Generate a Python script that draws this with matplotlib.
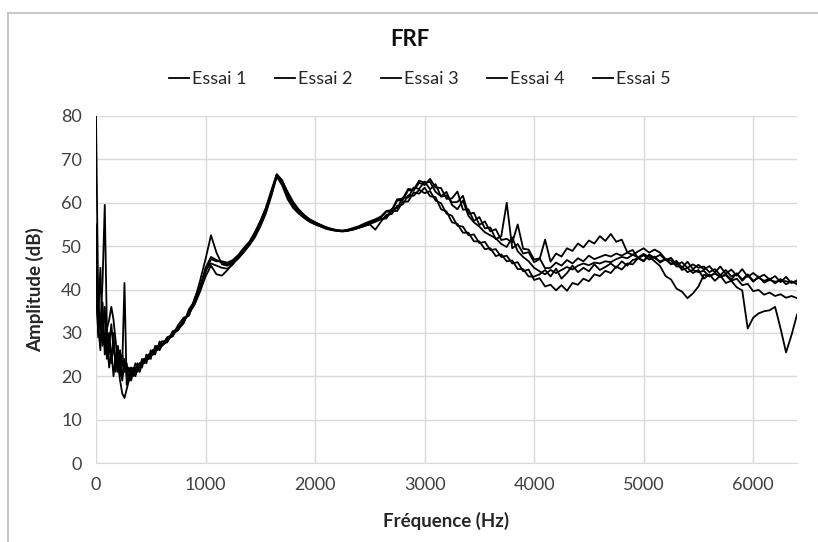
import numpy as np
import matplotlib
matplotlib.use("Agg")
import matplotlib.pyplot as plt
from matplotlib.lines import Line2D

plt.rcParams['font.family'] = ['Lato', 'DejaVu Sans']

# Frequency sampling (Hz)
freq_low = [0, 20, 40, 60, 80, 100, 120, 140, 160, 180, 200, 220, 240, 260, 280, 300,
            320, 340, 360, 380, 400, 420, 440, 460, 480, 500, 520, 540, 560, 580, 600]
freq_high = list(range(650, 6401, 50))
freq = freq_low + freq_high

# Amplitudes (dB)
essai1 = [80, 38, 31, 42, 59.5, 30, 27, 32, 26, 24, 27, 22, 25, 21, 22, 21,
          22, 21, 23, 22, 23, 23, 24, 23, 25, 25, 26, 25, 27, 26, 27,
          28.0, 29.8, 30.6, 33.0, 34.2, 37.5, 40.0, 45.0, 47.5, 46.8,
          46.2, 45.8, 46.5, 47.8, 49.3, 50.8, 52.9, 55.4, 58.6, 62.4,
          66.4, 64.8, 61.8, 59.6, 58.0, 56.9, 56.0, 55.4, 54.8, 54.2,
          53.9, 53.6, 53.5, 53.7, 54.0, 54.4, 55.0, 55.5, 55.9, 56.6,
          57.9, 58.1, 60.5, 60.6, 62.9, 62.8, 64.6, 64.1, 65.5, 63.5,
          63.4, 60.9, 61.0, 62.6, 58.4, 58.5, 55.8, 56.7, 54.1, 54.3,
          51.6, 52.3, 60.0, 49.5, 50.5, 48.3, 48.6, 46.3, 47.0, 51.5,
          46.4, 48.3, 47.6, 49.5, 48.9, 50.6, 49.7, 51.3, 50.6, 52.3,
          51.2, 52.8, 51.0, 51.5, 48.6, 49.1, 47.2, 47.9, 46.9, 47.6,
          46.2, 47.0, 45.9, 46.6, 45.0, 46.4, 44.7, 45.7, 44.6, 45.4,
          43.9, 45.3, 43.6, 44.6, 43.2, 44.7, 42.9, 43.8, 42.8, 43.4,
          42.3, 43.1, 41.7, 42.9, 41.5, 42.1]
essai2 = [55, 33, 45, 29, 36, 26, 30, 24, 28, 22, 25, 20, 23, 41.5, 18, 20,
          19, 21, 20, 22, 21, 23, 23, 24, 24, 25, 25, 26, 26, 27, 27,
          28.6, 29.2, 31.4, 32.4, 35.0, 37.5, 42.0, 47.0, 52.5, 48.5,
          45.8, 45.5, 46.2, 47.2, 48.8, 50.3, 52.4, 55.0, 58.0, 61.8,
          66.2, 65.0, 62.5, 60.2, 58.5, 57.2, 56.2, 55.5, 54.9, 54.3,
          53.8, 53.5, 53.4, 53.6, 53.9, 54.3, 54.8, 55.3, 55.8, 56.3,
          56.5, 58.6, 58.7, 61.2, 61.2, 63.5, 63.2, 64.9, 63.1, 64.3,
          61.4, 61.7, 60.1, 60.2, 61.6, 57.4, 57.7, 54.9, 55.7, 53.4,
          53.9, 51.4, 51.7, 50.8, 55.0, 49.4, 49.2, 46.9, 47.2, 44.9,
          45.0, 46.2, 45.5, 46.8, 46.0, 47.2, 46.5, 47.8, 47.0, 47.5,
          48.0, 47.6, 48.3, 47.8, 48.5, 48.0, 47.4, 48.2, 47.5, 46.5,
          45.4, 43.1, 42.3, 40.2, 39.5, 38.0, 39.1, 40.7, 43.4, 43.1,
          43.7, 42.9, 43.3, 42.0, 42.5, 41.0, 41.3, 39.6, 39.9, 38.8,
          39.3, 38.5, 38.9, 38.1, 38.5, 38.0]
essai3 = [42, 30, 28, 34, 27, 31, 33, 36, 33, 28, 23, 19, 16, 15, 17, 19,
          20, 21, 21, 22, 22, 23, 23, 24, 24, 25, 26, 26, 27, 27, 28,
          28.2, 30.0, 31.0, 32.8, 34.5, 36.5, 39.5, 43.0, 45.5, 43.5,
          43.2, 44.5, 46.0, 47.2, 48.6, 50.2, 52.0, 54.5, 57.5, 61.5,
          66.0, 64.0, 60.8, 58.8, 57.5, 56.5, 55.6, 55.0, 54.5, 54.0,
          53.7, 53.5, 53.4, 53.5, 53.9, 54.3, 54.7, 55.0, 53.8, 55.6,
          57.2, 57.4, 59.3, 59.6, 61.7, 61.6, 63.0, 62.2, 62.7, 60.5,
          59.9, 57.5, 57.0, 54.7, 54.5, 52.5, 52.7, 50.7, 51.0, 49.1,
          49.3, 47.5, 47.8, 46.0, 46.3, 44.2, 44.6, 42.2, 42.6, 40.7,
          41.1, 39.8, 41.0, 39.7, 41.5, 41.1, 42.5, 41.9, 43.5, 43.1,
          44.3, 43.8, 45.3, 44.6, 46.0, 45.8, 47.3, 46.6, 48.0, 47.3,
          48.0, 46.8, 47.3, 45.7, 46.3, 45.0, 45.8, 45.0, 45.3, 44.0,
          44.7, 43.3, 44.5, 43.0, 43.7, 42.3, 43.5, 42.0, 42.7, 42.0,
          42.5, 41.4, 42.4, 41.2, 41.9, 41.2]
essai4 = [47, 29, 34, 27, 30, 24, 27, 23, 30, 21, 26, 23, 19, 24, 20, 22,
          20, 22, 21, 23, 22, 24, 23, 25, 24, 26, 25, 27, 26, 28, 27,
          29.0, 29.5, 31.8, 33.5, 34.0, 38.0, 40.8, 44.5, 46.0, 45.5,
          45.0, 44.8, 45.8, 47.5, 49.0, 50.6, 52.6, 55.2, 58.2, 62.0,
          66.5, 64.5, 61.5, 59.2, 57.8, 56.6, 55.8, 55.2, 54.6, 54.1,
          53.8, 53.6, 53.5, 53.6, 53.8, 54.2, 54.6, 55.1, 55.6, 56.2,
          56.4, 58.1, 58.1, 60.2, 60.3, 62.4, 62.1, 63.5, 61.5, 61.3,
          58.5, 58.0, 55.5, 55.1, 53.1, 53.1, 51.1, 51.1, 49.3, 49.5,
          47.7, 48.1, 46.5, 46.7, 44.7, 44.7, 43.0, 43.0, 43.5, 44.5,
          43.0, 44.8, 42.5, 43.8, 45.5, 44.0, 45.0, 44.2, 45.8, 44.5,
          45.2, 46.0, 45.0, 46.5, 45.5, 46.8, 47.2, 46.5, 48.0, 47.2,
          46.5, 47.0, 45.8, 46.2, 44.5, 45.0, 43.8, 44.5, 42.5, 43.5,
          42.0, 43.2, 41.5, 42.0, 40.5, 39.8, 31.0, 33.5, 34.5, 35.0,
          35.2, 36.0, 31.0, 25.5, 29.5, 34.2]
essai5 = [38, 32, 26, 37, 25, 28, 22, 26, 20, 25, 21, 26, 20, 22, 23, 19,
          22, 20, 22, 21, 23, 22, 24, 24, 25, 24, 26, 26, 27, 27, 28,
          27.8, 30.4, 30.8, 32.2, 35.5, 37.2, 40.5, 44.0, 47.0, 46.5,
          46.5, 46.2, 46.8, 48.0, 49.6, 51.0, 53.2, 55.8, 58.8, 62.8,
          66.6, 65.2, 62.0, 60.0, 58.2, 57.0, 56.1, 55.5, 54.9, 54.4,
          54.0, 53.7, 53.6, 53.8, 54.2, 54.6, 55.2, 55.7, 56.2, 56.8,
          58.1, 58.3, 60.8, 60.9, 63.2, 63.0, 65.1, 64.6, 64.8, 62.5,
          61.5, 62.5, 59.5, 58.5, 60.5, 57.0, 55.5, 54.5, 53.2, 52.5,
          51.8, 50.5, 49.8, 52.0, 48.8, 47.5, 46.5, 45.0, 44.2, 43.5,
          44.5, 43.8, 44.5, 45.2, 44.6, 45.5, 46.0, 45.6, 46.2, 46.0,
          46.5, 46.3, 47.0, 47.5, 47.2, 48.0, 48.8, 49.5, 48.5, 49.2,
          48.5, 47.0, 46.7, 45.3, 45.3, 44.0, 44.5, 44.0, 44.3, 43.0,
          43.7, 43.0, 43.5, 42.3, 43.7, 42.0, 43.3, 41.8, 43.0, 41.6,
          42.2, 41.8, 42.0, 41.9, 41.6, 41.8]

series = [essai1, essai2, essai3, essai4, essai5]
labels = ["Essai 1", "Essai 2", "Essai 3", "Essai 4", "Essai 5"]
x_ticks = [0, 1000, 2000, 3000, 4000, 5000, 6000]
y_ticks = [0, 10, 20, 30, 40, 50, 60, 70, 80]

fig = plt.figure(figsize=(8.18, 5.42), dpi=100)
ax = fig.add_axes([96 / 818, 1 - 463 / 542, 701 / 818, 347 / 542])

for s, lab in zip(series, labels):
    ax.plot(freq, s, color='black', linewidth=1.3, label=lab)

ax.set_xlim(0, 6400)
ax.set_ylim(0, 80)
ax.set_xticks(x_ticks)
ax.set_yticks(y_ticks)
ax.grid(True, color='#d9d9d9', linewidth=1.0)
ax.set_axisbelow(True)
for sp in ['top', 'right', 'left']:
    ax.spines[sp].set_visible(False)
ax.spines['bottom'].set_color('#d9d9d9')
ax.tick_params(length=0, labelsize=13, pad=10)
for t in ax.get_xticklabels() + ax.get_yticklabels():
    t.set_color('#404040')

ax.set_xlabel("Fréquence (Hz)", fontsize=13.5, fontweight='bold', color='#262626', labelpad=14)
ax.set_ylabel("Amplitude (dB)", fontsize=13.5, fontweight='bold', color='#262626', labelpad=12)

fig.text(410 / 818, 1 - 40 / 542, "FRF", ha='center', va='center',
         fontsize=16, fontweight='bold', color='#0d0d0d')

leg = fig.legend(loc='center', bbox_to_anchor=(420 / 818, 1 - 79 / 542), ncol=5,
                 frameon=False, fontsize=13, handlelength=1.1, handletextpad=0.2,
                 columnspacing=1.55)
for t in leg.get_texts():
    t.set_color('#262626')

# outer chart border
fig.add_artist(Line2D([8 / 818, 1], [1 - 13 / 542, 1 - 13 / 542], color='#bfbfbf', linewidth=1.2,
                      transform=fig.transFigure))
fig.add_artist(Line2D([8 / 818, 8 / 818], [0, 1 - 13 / 542], color='#bfbfbf', linewidth=1.2,
                      transform=fig.transFigure))

fig.savefig("out.png", dpi=100)
